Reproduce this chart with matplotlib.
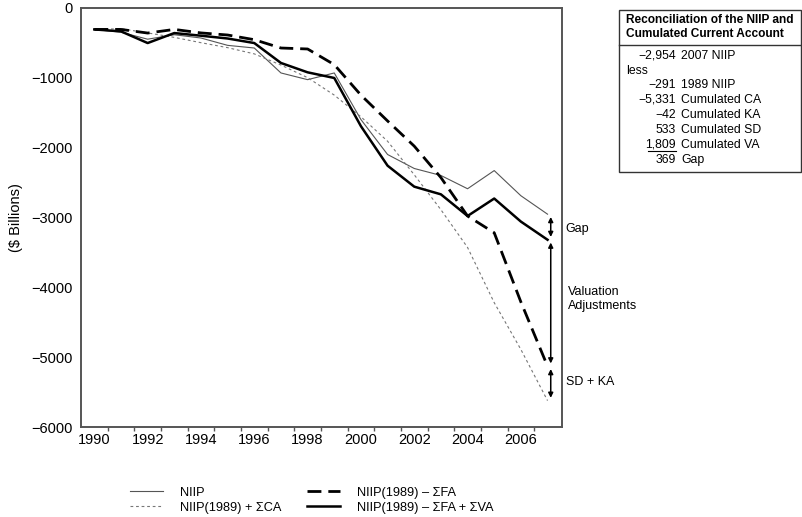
import numpy as np
import matplotlib
matplotlib.use("Agg")
import matplotlib.pyplot as plt
from matplotlib.patches import Rectangle
from matplotlib.lines import Line2D

plt.rcParams["font.family"] = ["Liberation Sans", "DejaVu Sans"]

years = np.arange(1990, 2008)
niip = [-310, -350, -450, -386, -433, -538, -576, -933, -1029, -933,
        -1600, -2100, -2300, -2400, -2590, -2330, -2690, -2954]
niip_ca = [-310, -300, -360, -424, -500, -571, -660, -820, -1000, -1250,
           -1560, -1910, -2390, -2890, -3430, -4220, -4890, -5622]
niip_fa = [-310, -310, -362, -310, -360, -390, -457, -576, -590, -814,
           -1250, -1620, -1980, -2430, -2980, -3220, -4210, -5130]
niip_fa_va = [-310, -338, -505, -362, -400, -440, -505, -790, -924, -1005,
              -1695, -2260, -2560, -2670, -2980, -2730, -3060, -3320]

table_vals = ["\u22122,954", "", "\u2212291", "\u22125,331", "\u221242", "533", "1,809", "369"]
table_labels = ["2007 NIIP", "", "1989 NIIP", "Cumulated CA", "Cumulated KA",
                "Cumulated SD", "Cumulated VA", "Gap"]

fig = plt.figure(figsize=(8.02, 5.17), dpi=100)
ax = fig.add_axes([0.101, 0.174, 0.600, 0.811])

ax.plot(years, niip, color="#555555", lw=0.8, label="NIIP")
ax.plot(years, niip_ca, color="#777777", lw=0.8, dashes=(2.5, 2.5),
        label="NIIP(1989) + \u03a3CA")
ax.plot(years, niip_fa, color="black", lw=2.0, dashes=(5, 2.5),
        label="NIIP(1989) \u2013 \u03a3FA")
ax.plot(years, niip_fa_va, color="black", lw=1.8,
        label="NIIP(1989) \u2013 \u03a3FA + \u03a3VA")

ax.set_xlim(1989.5, 2007.55)
ax.set_ylim(-6000, 0)
ax.set_xticks(np.arange(1990, 2007, 2))
ax.set_xticks(np.arange(1990.5, 2007, 1), minor=True)
ax.tick_params(axis="x", which="major", length=0, pad=4, labelsize=10.5)
ax.tick_params(axis="x", which="minor", length=3, width=1, color="#555555")
ax.set_yticks(np.arange(-6000, 1, 1000))
ax.tick_params(axis="y", length=0, pad=6, labelsize=10.5)
for s in ax.spines.values():
    s.set_color("#555555")
    s.set_linewidth(1.4)
ax.set_ylabel("($ Billions)", fontsize=10.5, labelpad=6)

# reconciliation arrows at 2007
xa = 2007.12
arrow = dict(arrowstyle="<|-|>", color="black", lw=1.1, mutation_scale=7,
             shrinkA=2, shrinkB=2)
ax.annotate("", xy=(xa, niip[-1]), xytext=(xa, niip_fa_va[-1]), arrowprops=arrow)
ax.annotate("", xy=(xa, niip_fa_va[-1]), xytext=(xa, niip_fa[-1]), arrowprops=arrow)
ax.annotate("", xy=(xa, niip_fa[-1]), xytext=(xa, niip_ca[-1]), arrowprops=arrow)
ax.text(2007.68, -3160, "Gap", fontsize=9, va="center", ha="left", clip_on=False)
ax.text(2007.75, -4170, "Valuation\nAdjustments", fontsize=9, va="center", ha="left",
        clip_on=False, linespacing=1.25)
ax.text(2007.68, -5360, "SD + KA", fontsize=9, va="center", ha="left", clip_on=False)

# legend at the bottom
fig.legend(handles=ax.get_lines(), loc="lower left", bbox_to_anchor=(0.148, -0.016),
           ncol=2, frameon=False, fontsize=9.2, handlelength=2.6, columnspacing=2.0,
           labelspacing=0.25, handletextpad=1.3)

# reconciliation table
W, H = 802.0, 517.0
fig.patches.append(Rectangle((619 / W, 1 - 172 / H), 182 / W, 162 / H,
                             transform=fig.transFigure, fill=False,
                             edgecolor="#333333", lw=1.0))
fig.lines.append(Line2D([619 / W, 801 / W], [1 - 45 / H, 1 - 45 / H],
                        transform=fig.transFigure, color="#333333", lw=1.0))
fig.text(626 / W, 1 - 27 / H, "Reconciliation of the NIIP and\nCumulated Current Account",
         fontsize=8.6, fontweight="bold", va="center", ha="left", linespacing=1.3)
row_y = [56, 71, 85, 100, 115, 130, 145, 160]
for v, lab, y in zip(table_vals, table_labels, row_y):
    fig.text(676 / W, 1 - y / H, v, fontsize=8.8, ha="right", va="center")
    fig.text(681 / W, 1 - y / H, lab, fontsize=8.8, ha="left", va="center")
fig.text(626 / W, 1 - 71 / H, "less", fontsize=8.8, ha="left", va="center")
fig.lines.append(Line2D([648 / W, 676 / W], [1 - 150.5 / H, 1 - 150.5 / H],
                        transform=fig.transFigure, color="black", lw=0.8))

fig.savefig("out.png", dpi=100)
